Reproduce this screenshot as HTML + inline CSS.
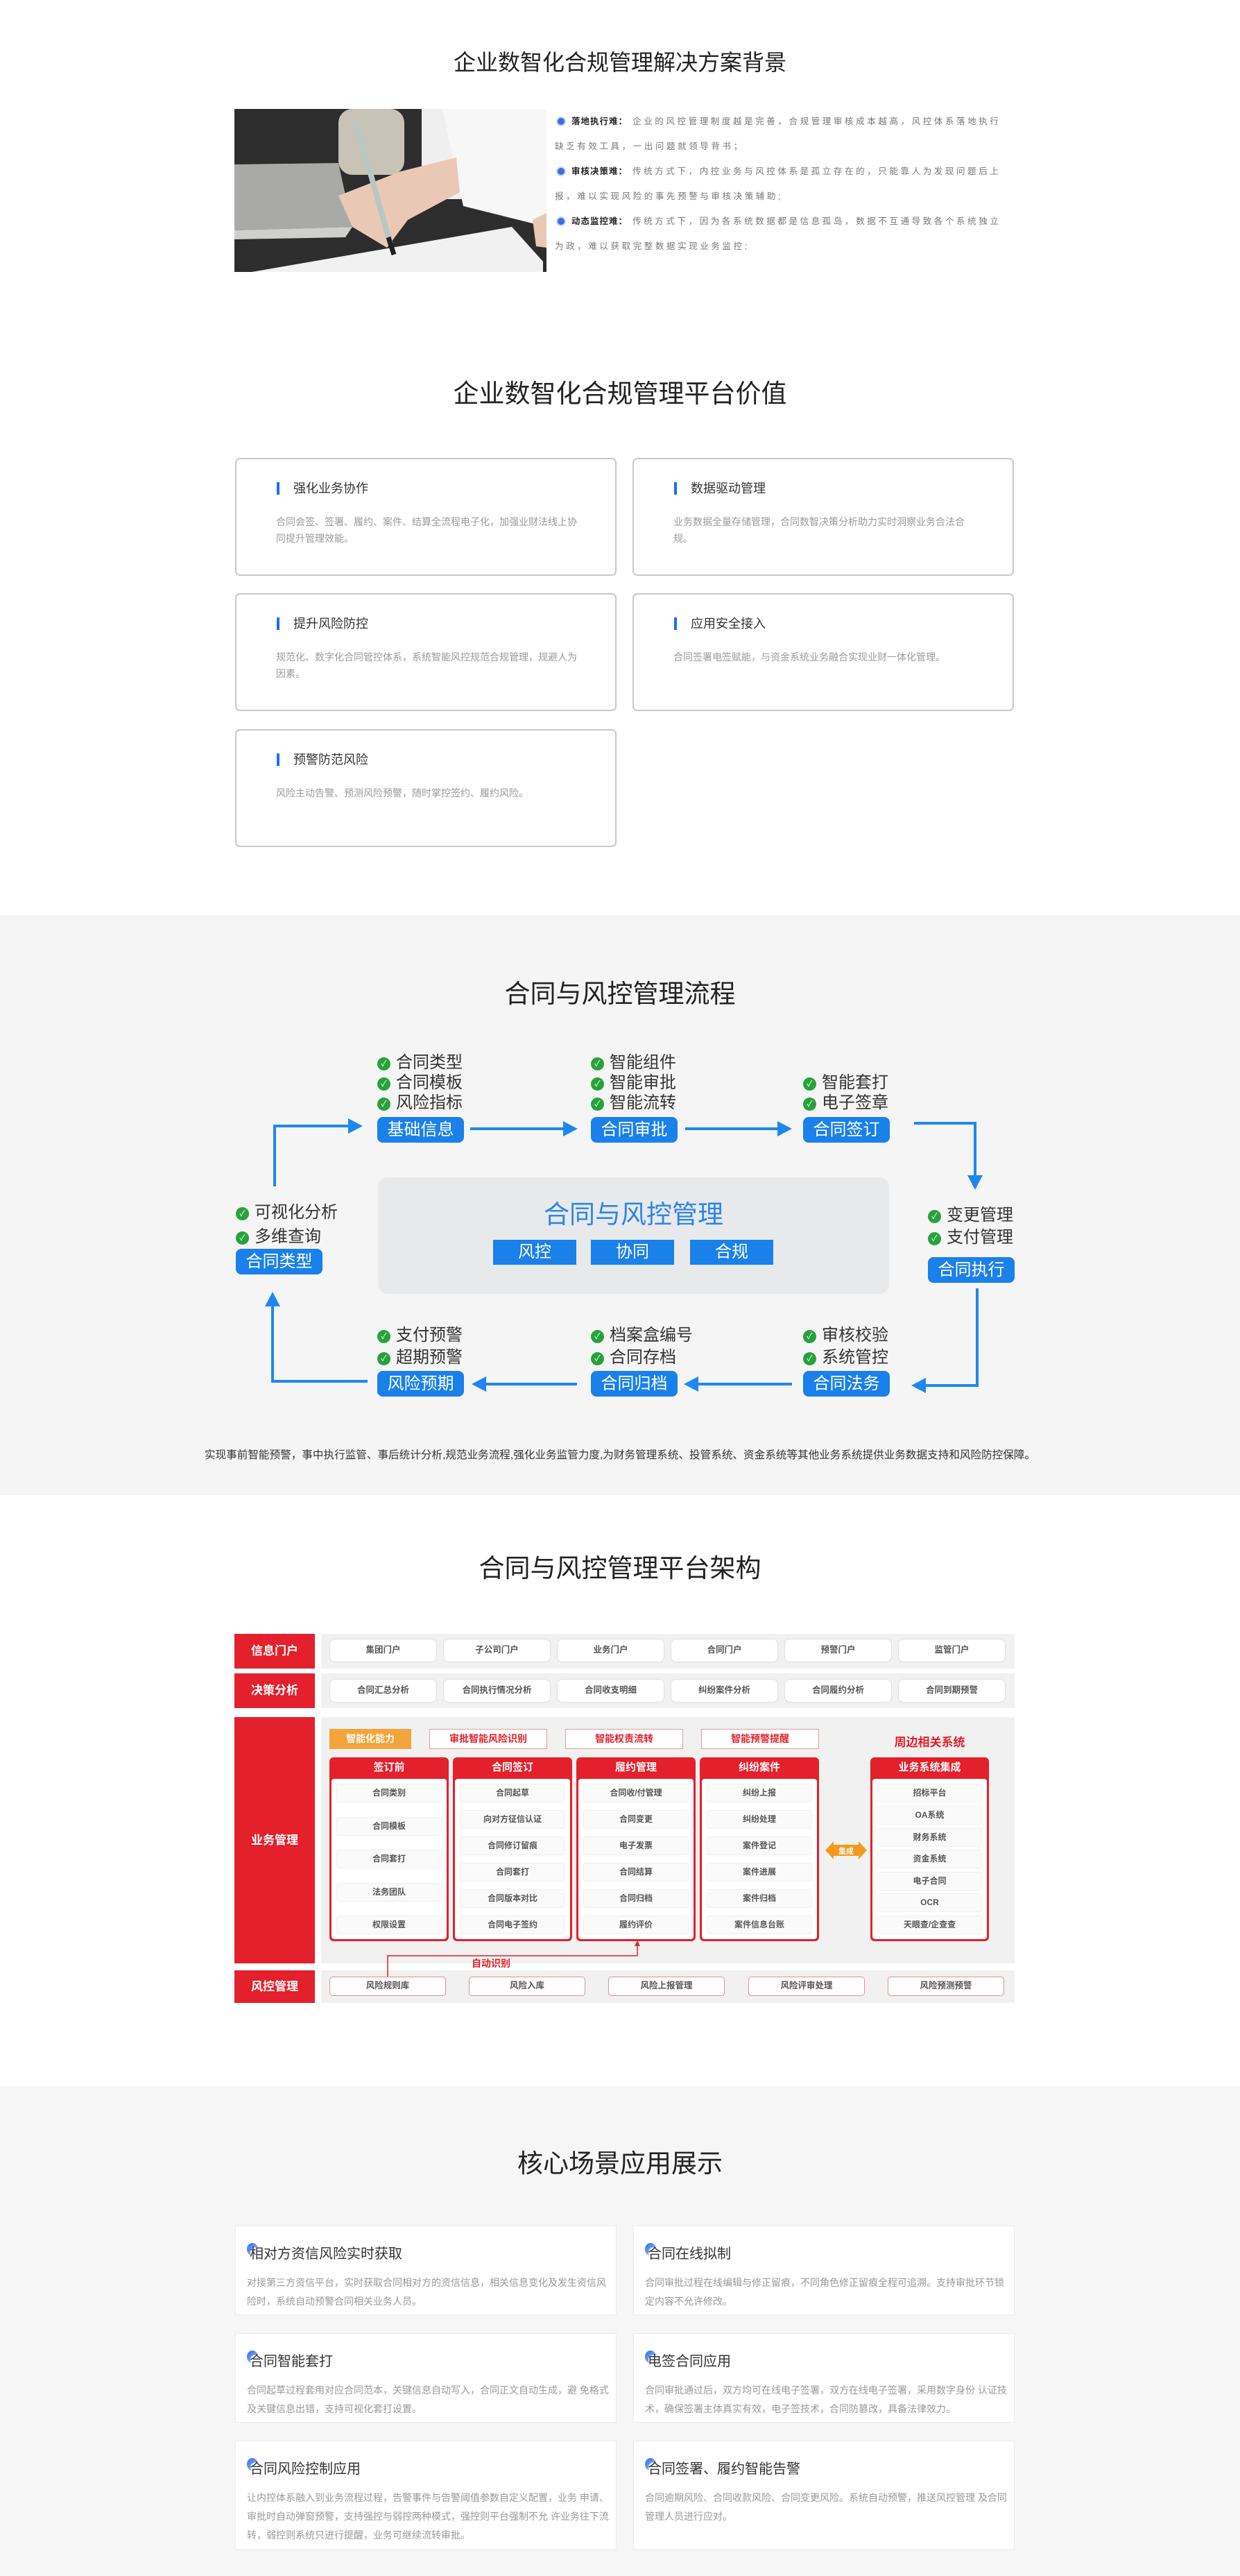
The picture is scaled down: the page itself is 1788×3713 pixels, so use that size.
<!DOCTYPE html>
<html><head><meta charset="utf-8">
<style>
*{margin:0;padding:0;box-sizing:border-box}
body{width:1788px;height:3713px;position:relative;background:#fff;font-family:"Liberation Sans","Noto Sans CJK SC",sans-serif;overflow:hidden}
.a{position:absolute}
.title{position:absolute;left:0;width:1788px;text-align:center;font-size:37px;color:#222;line-height:44px}
.bg1{line-height:36px;font-size:12.5px;letter-spacing:3.6px;color:#777;white-space:nowrap}
.bg1 b{color:#222;letter-spacing:1px}
.dot{display:inline-block;width:10px;height:10px;border-radius:50%;background:#3b6fe0;box-shadow:0 0 0 2px #c9d6f7;margin:0 10px 1px 4px;vertical-align:middle}
.card{position:absolute;width:550px;height:170px;border:2px solid #c8c8c8;border-radius:7px;background:#fff}
.card h3{position:absolute;left:82px;top:30px;font-size:18px;font-weight:normal;color:#333;line-height:24px}
.card h3:before{content:"";position:absolute;left:-24px;top:3px;width:4px;height:18px;background:#1c6ff0}
.card p{position:absolute;left:57px;top:78px;width:440px;font-size:14px;line-height:24px;color:#9a9a9a}
.it{position:absolute;font-size:24px;color:#333;line-height:29px;white-space:nowrap}
.it i{display:inline-block;width:19px;height:19px;border-radius:50%;background:#27a23b;color:#fff;font-size:12px;line-height:19px;text-align:center;font-style:normal;vertical-align:2px;margin-right:8px}
.bx{position:absolute;width:125px;height:37px;background:#1a80ea;border-radius:8px;color:#fff;font-size:24px;line-height:37px;text-align:center}
.lab{position:absolute;left:338px;width:116px;background:#e3202b;color:#fff;font-weight:bold;font-size:17px;text-align:center}
.pan{position:absolute;left:463px;width:1000px;background:#f1f1f1}
.pill{position:absolute;width:155px;height:34px;border:1.5px solid #dedede;border-radius:8px;background:#fff;font-size:12.5px;color:#555;font-weight:bold;text-align:center;line-height:31px}
.tag{position:absolute;height:29px;border:1.5px solid #e69a9f;background:#fff;color:#e3202b;font-weight:bold;font-size:14px;text-align:center;line-height:26px}
.col{position:absolute;top:2533px;height:265px;background:#e3202b;border-radius:6px}
.col .h{height:29px;line-height:29px;text-align:center;color:#fff;font-weight:bold;font-size:15px}
.col .b{position:absolute;left:3px;right:3px;top:31px;bottom:3px;background:#fff;border-radius:4px}
.ci{position:absolute;left:7px;right:7px;height:27px;background:#fafafa;border:1px solid #f0f0f0;border-radius:3px;text-align:center;line-height:25px;font-size:12px;color:#555;font-weight:bold}
.rp{position:absolute;top:2849px;width:168px;height:28px;border:1.5px solid #e38f95;border-radius:5px;background:#fff;text-align:center;line-height:25px;font-size:12.5px;color:#555;font-weight:bold}
.sc{position:absolute;width:550px;background:#fff;border:1px solid #ececec}
.sc h3{position:absolute;left:20px;top:26px;font-size:20px;font-weight:normal;color:#333;line-height:28px}
.ic{position:absolute;left:16px;top:24px;width:16px;height:18px;border-radius:50%;background:radial-gradient(circle at 75% 75%,#fff 0 38%,transparent 40%),linear-gradient(135deg,#2c6be8,#a8c6ff)}
.sc p{position:absolute;left:16px;top:68px;width:525px;font-size:14px;line-height:27px;color:#999}
</style></head><body>

<!-- Section 1 -->
<div class="title" style="top:68px;font-size:32px">企业数智化合规管理解决方案背景</div>
<svg class="a" style="left:338px;top:157px" width="450" height="235" viewBox="0 0 450 235">
<rect width="450" height="235" fill="#2d2d2e"/>
<rect x="150" y="0" width="95" height="95" rx="20" fill="#c9c2b6"/>
<rect x="270" y="0" width="180" height="130" fill="#efefef"/>
<polygon points="300,0 450,0 450,170 330,140" fill="#f7f7f7"/>
<polygon points="0,80 150,78 170,170 0,175" fill="#a9a9a7"/>
<polygon points="0,175 170,170 160,185 0,188" fill="#cfcfcd"/>
<polygon points="25,235 400,170 445,220 445,235" fill="#f1f1f1"/>
<polygon points="150,125 240,90 320,70 325,120 250,160 220,200 170,170" fill="#e9c9b5"/>
<line x1="175" y1="18" x2="225" y2="195" stroke="#b9c7c3" stroke-width="8"/>
<line x1="222" y1="185" x2="230" y2="210" stroke="#222" stroke-width="7"/>
<polygon points="430,160 450,150 450,200 435,198" fill="#e9c9b5"/>
</svg>
<div class="a bg1" style="left:800px;top:157px">
<div><span class="dot"></span><b>落地执行难：</b> 企业的风控管理制度越是完善，合规管理审核成本越高，风控体系落地执行</div>
<div>缺乏有效工具，一出问题就领导背书；</div>
<div><span class="dot"></span><b>审核决策难：</b> 传统方式下，内控业务与风控体系是孤立存在的，只能靠人为发现问题后上</div>
<div>报，难以实现风险的事先预警与审核决策辅助;</div>
<div><span class="dot"></span><b>动态监控难：</b> 传统方式下，因为各系统数据都是信息孤岛，数据不互通导致各个系统独立</div>
<div>为政，难以获取完整数据实现业务监控;</div>
</div>

<!-- Section 2 -->
<div class="title" style="top:546px">企业数智化合规管理平台价值</div>
<div class="card" style="left:339px;top:660px"><h3>强化业务协作</h3><p>合同会签、签署、履约、案件、结算全流程电子化，加强业财法线上协同提升管理效能。</p></div>
<div class="card" style="left:912px;top:660px"><h3>数据驱动管理</h3><p>业务数据全量存储管理，合同数智决策分析助力实时洞察业务合法合规。</p></div>
<div class="card" style="left:339px;top:855px"><h3>提升风险防控</h3><p>规范化、数字化合同管控体系，系统智能风控规范合规管理，规避人为因素。</p></div>
<div class="card" style="left:912px;top:855px"><h3>应用安全接入</h3><p>合同签署电签赋能，与资金系统业务融合实现业财一体化管理。</p></div>
<div class="card" style="left:339px;top:1051px"><h3>预警防范风险</h3><p>风险主动告警、预测风险预警，随时掌控签约、履约风险。</p></div>

<!-- Section 3 -->
<div class="a" style="left:0;top:1319px;width:1788px;height:836px;background:#f5f5f5"></div>
<div class="title" style="top:1411px">合同与风控管理流程</div>
<div class="a" style="left:545px;top:1697px;width:737px;height:168px;background:#e8e9ea;border-radius:14px"></div>
<div class="a" style="left:545px;top:1728px;width:737px;text-align:center;font-size:37px;color:#2a87e6;line-height:46px">合同与风控管理</div>
<div class="bx" style="left:711px;top:1787px;width:120px;height:36px;border-radius:0;line-height:36px">风控</div>
<div class="bx" style="left:852px;top:1787px;width:120px;height:36px;border-radius:0;line-height:36px">协同</div>
<div class="bx" style="left:995px;top:1787px;width:120px;height:36px;border-radius:0;line-height:36px">合规</div>

<div class="it" style="left:544px;top:1517px"><i>✓</i>合同类型<br><i>✓</i>合同模板<br><i>✓</i>风险指标</div>
<div class="bx" style="left:544px;top:1610px">基础信息</div>
<div class="it" style="left:852px;top:1517px"><i>✓</i>智能组件<br><i>✓</i>智能审批<br><i>✓</i>智能流转</div>
<div class="bx" style="left:852px;top:1610px">合同审批</div>
<div class="it" style="left:1158px;top:1546px"><i>✓</i>智能套打<br><i>✓</i>电子签章</div>
<div class="bx" style="left:1158px;top:1610px">合同签订</div>
<div class="it" style="left:1338px;top:1736px;line-height:32px"><i>✓</i>变更管理<br><i>✓</i>支付管理</div>
<div class="bx" style="left:1338px;top:1812px">合同执行</div>
<div class="it" style="left:340px;top:1730px;line-height:35px"><i>✓</i>可视化分析<br><i>✓</i>多维查询</div>
<div class="bx" style="left:340px;top:1800px">合同类型</div>
<div class="it" style="left:544px;top:1909px;line-height:32px"><i>✓</i>支付预警<br><i>✓</i>超期预警</div>
<div class="bx" style="left:544px;top:1976px">风险预期</div>
<div class="it" style="left:852px;top:1909px;line-height:32px"><i>✓</i>档案盒编号<br><i>✓</i>合同存档</div>
<div class="bx" style="left:852px;top:1976px">合同归档</div>
<div class="it" style="left:1158px;top:1909px;line-height:32px"><i>✓</i>审核校验<br><i>✓</i>系统管控</div>
<div class="bx" style="left:1158px;top:1976px">合同法务</div>

<svg class="a" style="left:0;top:0" width="1788" height="2200">
<g stroke="#1e88f0" stroke-width="4" fill="none">
<polyline points="396,1710 396,1623 505,1623"/>
<line x1="678" y1="1627" x2="815" y2="1627"/>
<line x1="988" y1="1627" x2="1124" y2="1627"/>
<polyline points="1318,1619 1406,1619 1406,1697"/>
<polyline points="1409,1857 1409,1997 1332,1997"/>
<line x1="1142" y1="1995" x2="1003" y2="1995"/>
<line x1="832" y1="1995" x2="697" y2="1995"/>
<polyline points="530,1991 393,1991 393,1880"/>
</g>
<g fill="#1e88f0">
<polygon points="523,1623 502,1612 502,1634"/>
<polygon points="833,1627 812,1616 812,1638"/>
<polygon points="1142,1627 1121,1616 1121,1638"/>
<polygon points="1406,1715 1395,1694 1417,1694"/>
<polygon points="1314,1997 1335,1986 1335,2008"/>
<polygon points="986,1995 1007,1984 1007,2006"/>
<polygon points="680,1995 701,1984 701,2006"/>
<polygon points="393,1862 382,1883 404,1883"/>
</g>
</svg>
<div class="a" style="left:0;top:2085px;width:1788px;text-align:center;font-size:15.6px;color:#333;white-space:nowrap">实现事前智能预警，事中执行监管、事后统计分析,规范业务流程,强化业务监管力度,为财务管理系统、投管系统、资金系统等其他业务系统提供业务数据支持和风险防控保障。</div>

<!-- Section 4 -->
<div class="title" style="top:2239px">合同与风控管理平台架构</div>
<div class="lab" style="top:2355px;height:50px;line-height:50px">信息门户</div>
<div class="lab" style="top:2412px;height:50px;line-height:50px">决策分析</div>
<div class="lab" style="top:2475px;height:355px;line-height:355px">业务管理</div>
<div class="lab" style="top:2840px;height:47px;line-height:47px">风控管理</div>
<div class="pan" style="top:2355px;height:50px"></div>
<div class="pan" style="top:2412px;height:50px"></div>
<div class="pan" style="top:2475px;height:355px"></div>
<div class="pan" style="top:2840px;height:47px"></div>
<div class="pill" style="left:475px;top:2362px">集团门户</div>
<div class="pill" style="left:639px;top:2362px">子公司门户</div>
<div class="pill" style="left:803px;top:2362px">业务门户</div>
<div class="pill" style="left:967px;top:2362px">合同门户</div>
<div class="pill" style="left:1131px;top:2362px">预警门户</div>
<div class="pill" style="left:1295px;top:2362px">监管门户</div>
<div class="pill" style="left:475px;top:2420px">合同汇总分析</div>
<div class="pill" style="left:639px;top:2420px">合同执行情况分析</div>
<div class="pill" style="left:803px;top:2420px">合同收支明细</div>
<div class="pill" style="left:967px;top:2420px">纠纷案件分析</div>
<div class="pill" style="left:1131px;top:2420px">合同履约分析</div>
<div class="pill" style="left:1295px;top:2420px">合同到期预警</div>

<div class="tag" style="left:475px;top:2492px;width:118px;background:#f3a43b;border-color:#f3a43b;color:#fff">智能化能力</div>
<div class="tag" style="left:619px;top:2492px;width:170px">审批智能风险识别</div>
<div class="tag" style="left:815px;top:2492px;width:170px">智能权责流转</div>
<div class="tag" style="left:1011px;top:2492px;width:170px">智能预警提醒</div>
<div class="a" style="left:1255px;top:2497px;width:171px;text-align:center;color:#e3202b;font-weight:bold;font-size:17px">周边相关系统</div>

<div class="col" style="left:475px;width:172px"><div class="h">签订前</div><div class="b">
<div class="ci" style="top:7px">合同类别</div><div class="ci" style="top:55px">合同模板</div><div class="ci" style="top:102px">合同套打</div><div class="ci" style="top:150px">法务团队</div><div class="ci" style="top:197px">权限设置</div></div></div>
<div class="col" style="left:653px;width:172px"><div class="h">合同签订</div><div class="b">
<div class="ci" style="top:7px">合同起草</div><div class="ci" style="top:45px">向对方征信认证</div><div class="ci" style="top:83px">合同修订留痕</div><div class="ci" style="top:121px">合同套打</div><div class="ci" style="top:159px">合同版本对比</div><div class="ci" style="top:197px">合同电子签约</div></div></div>
<div class="col" style="left:831px;width:172px"><div class="h">履约管理</div><div class="b">
<div class="ci" style="top:7px">合同收/付管理</div><div class="ci" style="top:45px">合同变更</div><div class="ci" style="top:83px">电子发票</div><div class="ci" style="top:121px">合同结算</div><div class="ci" style="top:159px">合同归档</div><div class="ci" style="top:197px">履约评价</div></div></div>
<div class="col" style="left:1009px;width:172px"><div class="h">纠纷案件</div><div class="b">
<div class="ci" style="top:7px">纠纷上报</div><div class="ci" style="top:45px">纠纷处理</div><div class="ci" style="top:83px">案件登记</div><div class="ci" style="top:121px">案件进展</div><div class="ci" style="top:159px">案件归档</div><div class="ci" style="top:197px">案件信息台账</div></div></div>
<div class="col" style="left:1255px;width:171px"><div class="h">业务系统集成</div><div class="b">
<div class="ci" style="top:7px">招标平台</div><div class="ci" style="top:39px">OA系统</div><div class="ci" style="top:71px">财务系统</div><div class="ci" style="top:102px">资金系统</div><div class="ci" style="top:134px">电子合同</div><div class="ci" style="top:165px">OCR</div><div class="ci" style="top:197px">天眼查/企查查</div></div></div>
<svg class="a" style="left:1190px;top:2652px" width="60" height="30"><polygon points="0,15 12,2 12,7 48,7 48,2 60,15 48,28 48,23 12,23 12,28" fill="#f39a1e"/><text x="30" y="20" font-size="11" fill="#fff" text-anchor="middle" font-weight="bold" font-family="Liberation Sans,Noto Sans CJK SC,sans-serif">集成</text></svg>
<div class="a" style="left:680px;top:2820px;font-size:14px;color:#e3202b;font-weight:bold">自动识别</div>
<div class="rp" style="left:475px">风险规则库</div>
<div class="rp" style="left:676px">风险入库</div>
<div class="rp" style="left:877px">风险上报管理</div>
<div class="rp" style="left:1079px">风险评审处理</div>
<div class="rp" style="left:1280px">风险预测预警</div>
<svg class="a" style="left:0;top:2790px" width="1000" height="70">
<g stroke="#e3202b" stroke-width="1.5" fill="none"><polyline points="559,59 559,29 919,29 919,12"/></g>
<polygon points="919,7 915,15 923,15" fill="#e3202b"/>
</svg>

<!-- Section 5 -->
<div class="a" style="left:0;top:3007px;width:1788px;height:706px;background:#f6f6f6"></div>
<div class="title" style="top:3097px">核心场景应用展示</div>
<div class="sc" style="left:339px;top:3208px;height:129px"><span class="ic"></span><h3>相对方资信风险实时获取</h3><p>对接第三方资信平台，实时获取合同相对方的资信信息，相关信息变化及发生资信风险时，系统自动预警合同相关业务人员。</p></div>
<div class="sc" style="left:913px;top:3208px;height:129px"><span class="ic"></span><h3>合同在线拟制</h3><p>合同审批过程在线编辑与修正留痕，不同角色修正留痕全程可追溯。支持审批环节锁定内容不允许修改。</p></div>
<div class="sc" style="left:339px;top:3363px;height:129px"><span class="ic"></span><h3>合同智能套打</h3><p>合同起草过程套用对应合同范本，关键信息自动写入，合同正文自动生成，避 免格式及关键信息出错，支持可视化套打设置。</p></div>
<div class="sc" style="left:913px;top:3363px;height:129px"><span class="ic"></span><h3>电签合同应用</h3><p>合同审批通过后，双方均可在线电子签署，双方在线电子签署，采用数字身份 认证技术，确保签署主体真实有效，电子签技术，合同防篡改，具备法律效力。</p></div>
<div class="sc" style="left:339px;top:3518px;height:157px"><span class="ic"></span><h3>合同风险控制应用</h3><p>让内控体系融入到业务流程过程，告警事件与告警阈值参数自定义配置，业务 申请、审批时自动弹窗预警，支持强控与弱控两种模式，强控则平台强制不允 许业务往下流转，弱控则系统只进行提醒，业务可继续流转审批。</p></div>
<div class="sc" style="left:913px;top:3518px;height:157px"><span class="ic"></span><h3>合同签署、履约智能告警</h3><p>合同逾期风险、合同收款风险、合同变更风险。系统自动预警，推送风控管理 及合同管理人员进行应对。</p></div>
</body></html>
